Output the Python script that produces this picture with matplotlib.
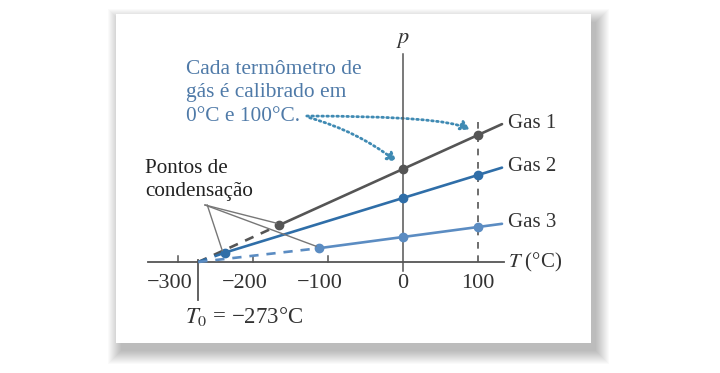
import numpy as np
import matplotlib.pyplot as plt
from matplotlib.patches import Rectangle, FancyArrowPatch

plt.rcParams['font.family'] = ['Liberation Serif', 'DejaVu Serif']
plt.rcParams['mathtext.fontset'] = 'stix'

# gas thermometers: pressure (arbitrary units) read at the calibration points
gases = ["Gas 1", "Gas 2", "Gas 3"]
p_at_0 = [93, 64, 25]
p_at_100 = [127, 87, 35]
t_condense = [-165, -237, -112]   # where each gas condenses
t_end = 132
T0 = -273
xticks = [-300, -200, -100, 0, 100]
xticklabels = ["\u2212300", "\u2212200", "\u2212100", "0", "100"]

colors = ["#555555", "#2f6ea8", "#5b8cc2"]
note_col = "#4f7aa8"
dot_col = "#3f8ab3"

fig = plt.figure(figsize=(7.2, 3.73), dpi=100)

# white card with a soft shadow (figure pixels)
W, H = 720, 373
bx0, by0, bx1, by1 = 116, 14, 591, 343
for i in range(14):
    fig.patches.append(Rectangle(((bx0 + 5 - i) / W, 1 - (by1 + 8 + i) / H),
                                 (bx1 - bx0 + 2 * i) / W, (by1 - by0 + 2 * i) / H,
                                 transform=fig.transFigure, color="black",
                                 alpha=0.018, lw=0, zorder=-3))
fig.patches.append(Rectangle((bx0 / W, 1 - by1 / H), (bx1 - bx0) / W, (by1 - by0) / H,
                             transform=fig.transFigure, color="white", lw=0, zorder=-2))

ax = fig.add_axes([0, 0, 1, 1])
ax.set_xlim(-403 / 0.75, (W - 403) / 0.75)
ax.set_ylim(262 - H, 262)
ax.axis("off")
ax.patch.set_alpha(0)

# axes
ax.plot([-340, 135], [0, 0], color="#555555", lw=1.3)
ax.plot([0, 0], [-9, 208], color="#555555", lw=1.1)
for t in xticks[:3]:
    ax.plot([t, t], [0, 6], color="#555555", lw=1.1)
for t, lab in zip(xticks, xticklabels):
    dx = -11 if lab.startswith("\u2212") else 0
    ax.text(t + dx, -21, lab, ha="center", va="center", fontsize=16, color="#333333")
ax.text(140, 0, "$T$ (\u00b0C)", ha="left", va="center", fontsize=15, color="#333333")
ax.text(0, 221, "$p$", ha="center", va="center", fontsize=16, color="#333333")

# absolute zero marker
ax.plot([T0, T0], [2, -38], color="#555555", lw=1.3)
ax.text(-212, -55, "$T_0$ = \u2212273\u00b0C", ha="center", va="center",
        fontsize=16.5, color="#333333")

# calibration at 100 C
ax.plot([100, 100], [0, 142], color="#555555", lw=1.2, ls=(0, (4, 4)))

for name, a, b, tc, c in zip(gases, p_at_0, p_at_100, t_condense, colors):
    slope = (b - a) / 100
    ts = np.array([tc, t_end])
    ax.plot(ts, a + slope * ts, color=c, lw=1.9, solid_capstyle="round")
    pc = a + slope * tc
    ax.plot([T0, tc], [0, pc], color=c, lw=1.9, ls=(0, (3.5, 3)))
    ax.plot([tc, 0, 100], [pc, a, b], "o", color=c, ms=6)
    ax.text(140, a + slope * t_end + 1, name, ha="left", va="center",
            fontsize=15, color="#333333")

# labels
ax.text(-290, 169, "Cada termômetro de\ngás é calibrado em\n0\u00b0C e 100\u00b0C.",
        ha="left", va="center", fontsize=15.4, color=note_col, linespacing=1.33)
ax.text(-344, 82, "Pontos de\ncondensação", ha="left", va="center",
        fontsize=15.2, color="#222222", linespacing=1.3)

# leader lines to the condensation points
for tc, a, b in zip(t_condense, p_at_0, p_at_100):
    pc = a + (b - a) / 100 * tc
    sx = -261 if tc < -200 else -264
    ax.plot([sx, tc - 4], [57, pc + 2], color="#777777", lw=1)

# dotted arrows from the note
arr1 = FancyArrowPatch((-132, 146), (92, 131),
                       connectionstyle="angle3,angleA=0,angleB=-35",
                       arrowstyle="-|>,head_length=5,head_width=3",
                       color=dot_col, lw=2, ls=(0, (0.6, 1.2)))
arr2 = FancyArrowPatch((-128, 145), (-6, 99),
                       connectionstyle="arc3,rad=-0.1",
                       arrowstyle="-|>,head_length=5,head_width=3",
                       color=dot_col, lw=2, ls=(0, (0.6, 1.2)))
ax.add_patch(arr1)
ax.add_patch(arr2)

fig.savefig("out.png", dpi=100)
